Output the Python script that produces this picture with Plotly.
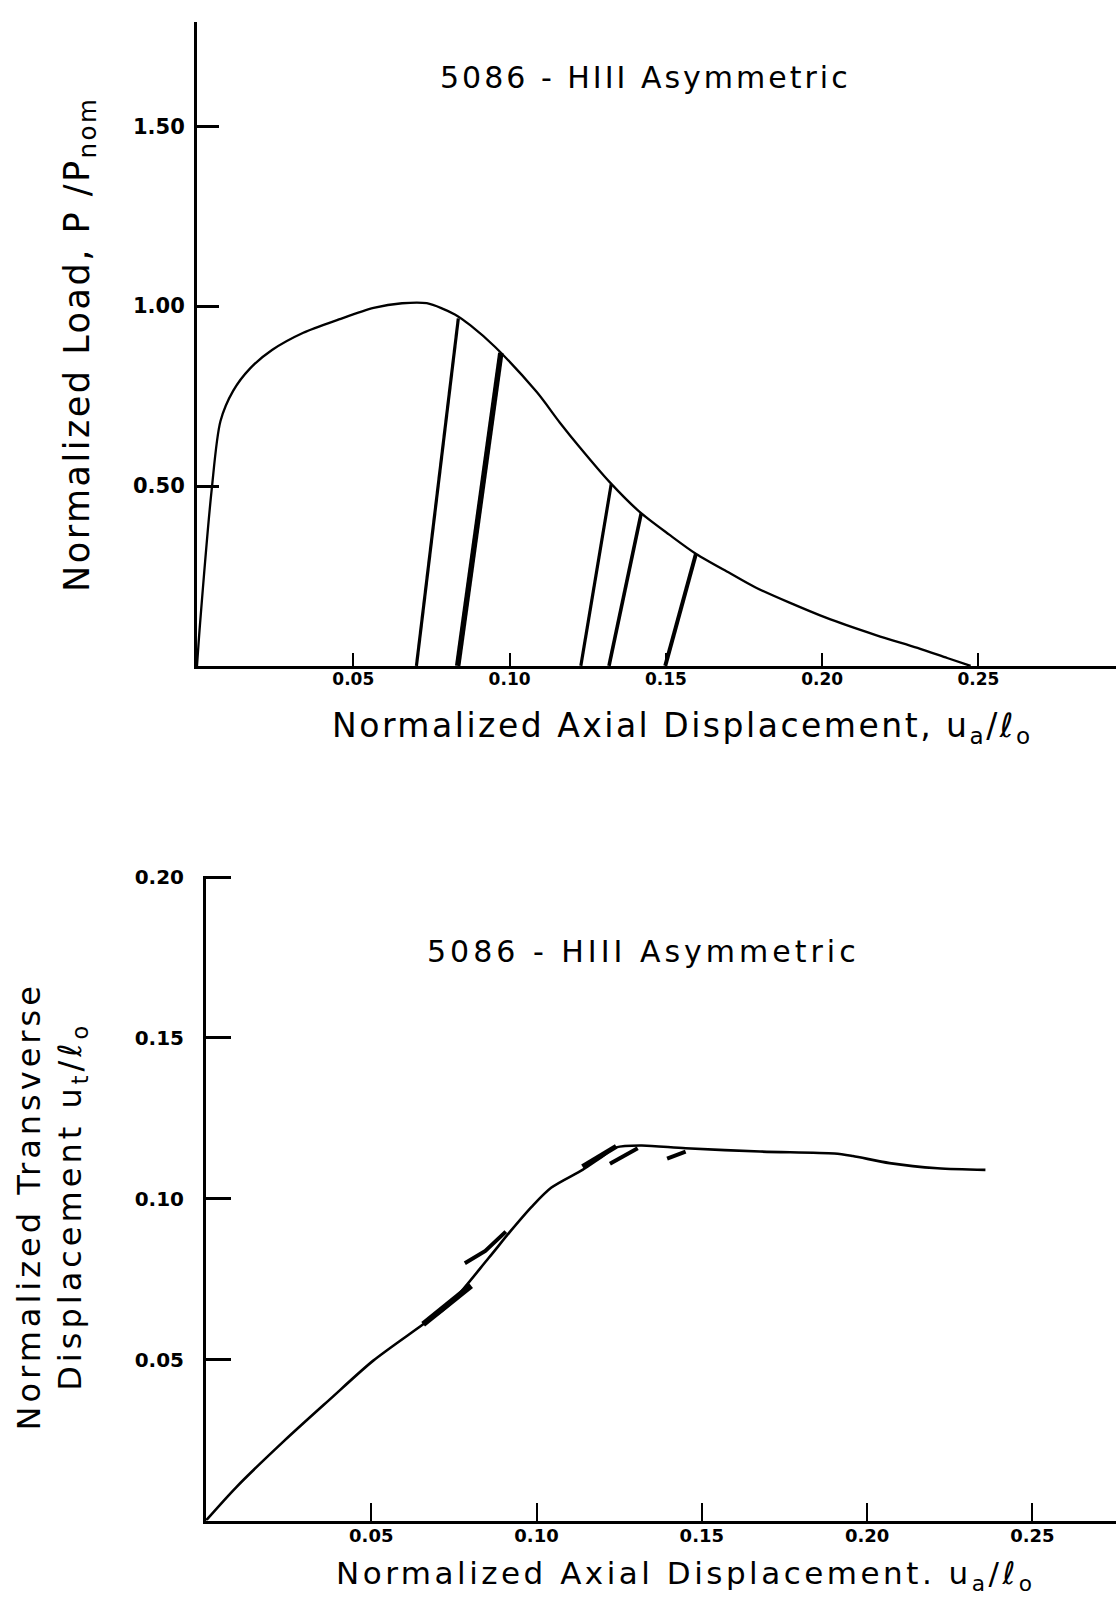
import plotly.graph_objects as go

W, H = 1116, 1600

# ---------------- data (top: load vs axial displacement) ----------------
load_x = [0.0, 0.001, 0.0047, 0.0075, 0.0116, 0.017, 0.024, 0.034, 0.0454, 0.0565,
          0.0656, 0.0735, 0.0825, 0.0874, 0.0953, 0.1087, 0.1161, 0.1225, 0.1321,
          0.1416, 0.1512, 0.1597, 0.1704, 0.1787, 0.2012, 0.2174, 0.2305, 0.2400, 0.2475]
load_y = [0.0, 0.12, 0.49, 0.68, 0.765, 0.827, 0.878, 0.926, 0.963, 0.995,
          1.008, 1.008, 0.977, 0.947, 0.887, 0.761, 0.676, 0.607, 0.510,
          0.428, 0.364, 0.311, 0.258, 0.218, 0.134, 0.085, 0.050, 0.022, 0.0]

# unloading lines: x at zero load -> (x, load) on the curve
unload_x0 = [0.0702, 0.0834, 0.1228, 0.1318, 0.1498]
unload_x1 = [0.0836, 0.0972, 0.1325, 0.1421, 0.1596]
unload_y1 = [0.966, 0.870, 0.505, 0.424, 0.311]
unload_w = [3.2, 5.5, 3.2, 3.6, 4]

# ---------------- data (bottom: transverse vs axial displacement) ----------------
trans_x = [0.0, 0.0092, 0.0238, 0.0373, 0.0506, 0.0657, 0.0735, 0.0855, 0.092, 0.0985,
           0.1045, 0.1139, 0.1194, 0.1241, 0.1318, 0.1451, 0.1676, 0.1901, 0.1957,
           0.2068, 0.2213, 0.2358]
trans_y = [0.0, 0.0104, 0.0249, 0.0375, 0.0497, 0.0610, 0.0670, 0.0816, 0.0898, 0.0975,
           0.1035, 0.1090, 0.1128, 0.1160, 0.1166, 0.1157, 0.1147, 0.1141, 0.1133,
           0.1111, 0.1095, 0.1090]

# short reloading marks drawn along the curve
mark_x = [[0.0657, 0.0802], [0.0783, 0.0845, 0.0907], [0.1139, 0.1241],
          [0.1222, 0.1306], [0.1395, 0.1451]]
mark_y = [[0.0610, 0.0730], [0.0800, 0.0838, 0.0898], [0.1100, 0.1163],
          [0.1109, 0.1157], [0.1125, 0.1147]]
mark_w = [6, 4, 5, 4, 4]

xtick_vals = [0.05, 0.10, 0.15, 0.20, 0.25]
xtick_text = ["0.05", "0.10", "0.15", "0.20", "0.25"]
ytick_top_vals = [0.50, 1.00, 1.50]
ytick_top_text = ["0.50", "1.00", "1.50"]
ytick_bot_vals = [0.05, 0.10, 0.15, 0.20]
ytick_bot_text = ["0.05", "0.10", "0.15", "0.20"]

title_text = "5086 - HIII Asymmetric"
top_x_title = "Normalized Axial Displacement, u<sub>a</sub>/ℓ<sub>o</sub>"
top_y_title = "Normalized Load, P /P<sub>nom</sub>"
bot_x_title = "Normalized Axial Displacement. u<sub>a</sub>/ℓ<sub>o</sub>"
bot_y_title = "Normalized Transverse<br>Displacement u<sub>t</sub>/ℓ<sub>o</sub>"


def spaced(text, px):
    return '<span style="letter-spacing:%spx">%s</span>' % (px, text)


fig = go.Figure()

fig.add_trace(go.Scatter(x=load_x, y=load_y, mode="lines", xaxis="x", yaxis="y",
                         line=dict(color="black", width=2.3, shape="spline", smoothing=0.8),
                         showlegend=False, hoverinfo="skip"))
for x0, x1, y1, w in zip(unload_x0, unload_x1, unload_y1, unload_w):
    fig.add_trace(go.Scatter(x=[x0, x1], y=[0, y1], mode="lines", xaxis="x", yaxis="y",
                             line=dict(color="black", width=w),
                             showlegend=False, hoverinfo="skip"))

fig.add_trace(go.Scatter(x=trans_x, y=trans_y, mode="lines", xaxis="x2", yaxis="y2",
                         line=dict(color="black", width=2.6, shape="spline", smoothing=0.8),
                         showlegend=False, hoverinfo="skip"))
for mx, my, w in zip(mark_x, mark_y, mark_w):
    fig.add_trace(go.Scatter(x=mx, y=my, mode="lines", xaxis="x2", yaxis="y2",
                             line=dict(color="black", width=w),
                             showlegend=False, hoverinfo="skip"))


def tf(size):
    return dict(family="DejaVu Sans", size=size, color="black", weight="bold")


titlefont = dict(family="DejaVu Sans", size=30, color="black")
axtitlefont = dict(family="DejaVu Sans", size=33, color="black")
botxtitlefont = dict(family="DejaVu Sans", size=31, color="black")
ytitlefont = dict(family="DejaVu Sans", size=35, color="black")
y2titlefont = dict(family="DejaVu Sans", size=32, color="black")

common_axis = dict(showline=True, linecolor="black", showgrid=False, zeroline=False,
                   ticks="inside", tickcolor="black", fixedrange=True)

fig.update_layout(
    width=W, height=H,
    margin=dict(l=0, r=0, t=0, b=0),
    paper_bgcolor="white", plot_bgcolor="white",
    showlegend=False,
    xaxis=dict(common_axis, domain=[197 / W, 1.0], range=[0, 0.294], anchor="y",
               linewidth=2.5, ticklen=13, tickwidth=2, tickfont=tf(17),
               tickvals=xtick_vals, ticktext=xtick_text, ticklabelstandoff=-4),
    yaxis=dict(common_axis, domain=[(H - 660) / H, (H - 12) / H], range=[0, 1.79], anchor="x",
               linewidth=3, ticklen=22, tickwidth=2.5, tickfont=tf(21),
               tickvals=ytick_top_vals, ticktext=ytick_top_text, ticklabelstandoff=5),
    xaxis2=dict(common_axis, domain=[206 / W, 1.0], range=[0, 0.2753], anchor="y2",
                linewidth=2.5, ticklen=18, tickwidth=2, tickfont=tf(18),
                tickvals=xtick_vals, ticktext=xtick_text, ticklabelstandoff=-3),
    yaxis2=dict(common_axis, domain=[80 / H, 729 / H], range=[0, 0.2005], anchor="x2",
                linewidth=3, ticklen=25, tickwidth=2.5, tickfont=tf(20),
                tickvals=ytick_bot_vals, ticktext=ytick_bot_text, ticklabelstandoff=15),
    annotations=[
        dict(text=spaced(title_text, 3), xref="paper", yref="paper", x=645 / W, y=1 - 68 / H,
             xanchor="center", yanchor="middle", showarrow=False, font=titlefont),
        dict(text=spaced(title_text, 4), xref="paper", yref="paper", x=643 / W, y=1 - 947 / H,
             xanchor="center", yanchor="middle", showarrow=False, font=titlefont),
        dict(text=spaced(top_x_title, 2.5), xref="paper", yref="paper", x=682 / W, y=1 - 722 / H,
             xanchor="center", yanchor="middle", showarrow=False, font=axtitlefont),
        dict(text=spaced(bot_x_title, 3.5), xref="paper", yref="paper", x=686 / W, y=2 / H,
             xanchor="center", yanchor="bottom", showarrow=False, font=botxtitlefont),
        dict(text=spaced(top_y_title, 2.5), xref="paper", yref="paper", x=80 / W, y=1 - 337 / H,
             xanchor="center", yanchor="middle", textangle=-90, showarrow=False, font=ytitlefont),
        dict(text=spaced(bot_y_title, 4), xref="paper", yref="paper", x=51 / W, y=1 - 1204 / H,
             xanchor="center", yanchor="middle", textangle=-90, showarrow=False, font=y2titlefont),
    ],
)

fig.write_html("out.html")
